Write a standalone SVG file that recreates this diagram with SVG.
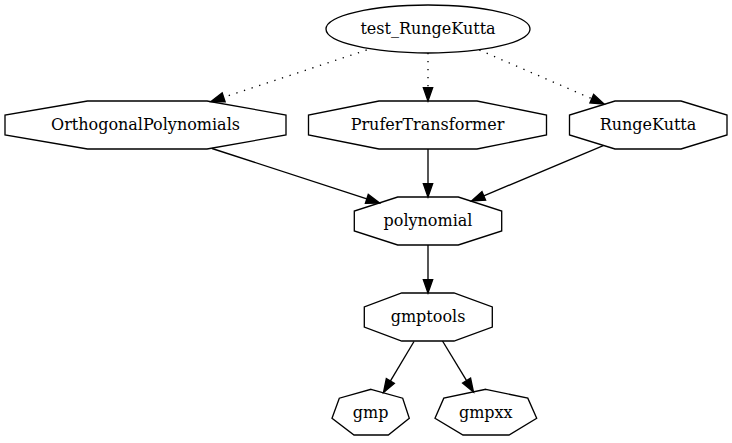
<svg xmlns="http://www.w3.org/2000/svg" width="732" height="443" viewBox="0 0 732 443">
<style>
.n{fill:none;stroke:#000;stroke-width:1.33}
.t{font-family:"DejaVu Serif",serif;font-size:16px;text-anchor:middle;fill:#000}
.e{fill:none;stroke:#000;stroke-width:1.33}
.d{stroke-dasharray:1.33,6.67}
.a{fill:#000;stroke:#000;stroke-width:1.33}
</style>
<rect width="732" height="443" fill="#fff"/>
<g id="test_RungeKutta">
<ellipse class="n" cx="428" cy="29" rx="102" ry="24"/>
<text class="t" font-family="DejaVu Serif, serif" x="428" y="34">test_RungeKutta</text>
</g>
<g id="OrthogonalPolynomials">
<polygon class="n" points="286,115 286,135 207,149 87.5,149 5,135 5,115 87.5,101 207,101"/>
<text class="t" font-family="DejaVu Serif, serif" x="145.5" y="130">OrthogonalPolynomials</text>
</g>
<g id="PruferTransformer">
<polygon class="n" points="546.5,115 546.5,135 477,149 379,149 308.5,135 308.5,115 379,101 477,101"/>
<text class="t" font-family="DejaVu Serif, serif" x="427.5" y="130">PruferTransformer</text>
</g>
<g id="RungeKutta">
<polygon class="n" points="727,115 727,135 681,149 615,149 569.5,135 569.5,115 615,101 681,101"/>
<text class="t" font-family="DejaVu Serif, serif" x="648" y="130">RungeKutta</text>
</g>
<g id="polynomial">
<polygon class="n" points="501.7,211 501.7,231 458.3,245 397.7,245 354.3,231 354.3,211 397.7,197 458.3,197"/>
<text class="t" font-family="DejaVu Serif, serif" x="428" y="226">polynomial</text>
</g>
<g id="gmptools">
<polygon class="n" points="492.3,307 492.3,327 454,341 401.7,341 364.3,327 364.3,307 401.7,293 454,293"/>
<text class="t" font-family="DejaVu Serif, serif" x="428" y="322">gmptools</text>
</g>
<g id="gmp">
<polygon class="n" points="371,389.3 402.7,398.2 409.3,418.3 388.3,435 354,435 332,418.3 339.3,398.2"/>
<text class="t" font-family="DejaVu Serif, serif" x="370.7" y="418">gmp</text>
</g>
<g id="gmpxx">
<polygon class="n" points="485.8,389.3 527.8,398.2 536.7,418.3 509,435 463,435 435,418.3 443.8,398.2"/>
<text class="t" font-family="DejaVu Serif, serif" x="485.8" y="418">gmpxx</text>
</g>
<g id="edges">
<path class="e d" d="M366.7,50 L223.66,97.31"/>
<polygon class="a" points="211,101.5 222.19,92.88 225.13,101.74"/>
<path class="e d" d="M428,53 L428,87.67"/>
<polygon class="a" points="428,101 423.33,87.67 432.67,87.67"/>
<path class="e d" d="M479.3,50 L591.77,98.7"/>
<polygon class="a" points="604,104 589.91,102.99 593.63,94.41"/>
<path class="e" d="M212,148.5 L366.82,198.88"/>
<polygon class="a" points="379.5,203 365.38,203.32 368.27,194.44"/>
<path class="e" d="M428,149 L428,183.67"/>
<polygon class="a" points="428,197 423.33,183.67 432.67,183.67"/>
<path class="e" d="M603.3,145.7 L483.79,195.84"/>
<polygon class="a" points="471.5,201 481.98,191.53 485.6,200.15"/>
<path class="e" d="M428,245 L428,279.67"/>
<polygon class="a" points="428,293 423.33,279.67 432.67,279.67"/>
<path class="e" d="M414,341.5 L390.34,381.06"/>
<polygon class="a" points="383.5,392.5 386.33,378.66 394.35,383.46"/>
<path class="e" d="M442.5,341 L466.58,380.61"/>
<polygon class="a" points="473.5,392 462.59,383.04 470.57,378.18"/>
</g>
</svg>
